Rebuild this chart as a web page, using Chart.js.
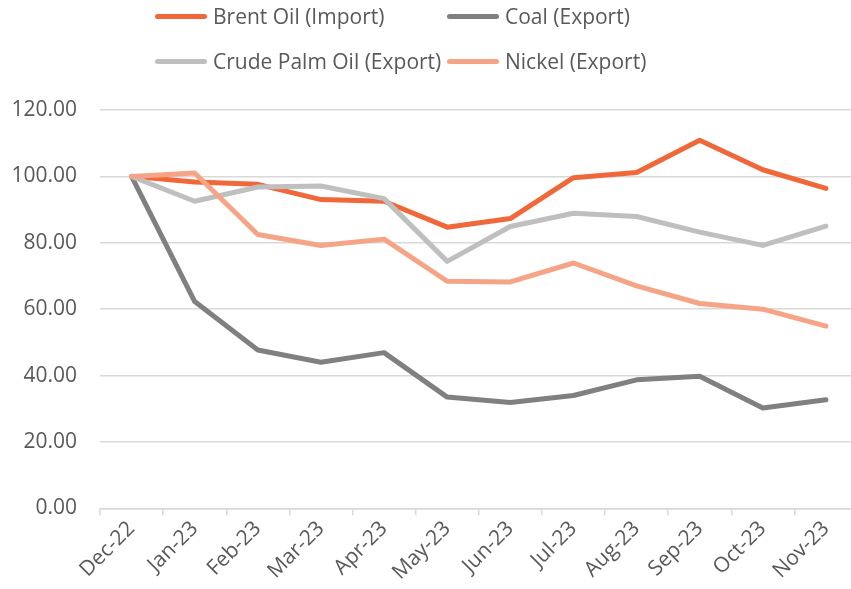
<!DOCTYPE html>
<html>
<head>
<meta charset="utf-8">
<script src="https://cdn.jsdelivr.net/npm/chart.js@4/dist/chart.umd.min.js"></script>
<style>
  html, body { margin: 0; padding: 0; background: #fff; }
  #wrap { position: relative; width: 851px; height: 589px; overflow: hidden; }
  #c { position: absolute; left: 0; top: 0; }
  .lg { position: absolute; display: flex; align-items: center; font-family: "Open Sans", sans-serif; font-size: 21px; color: #595959; white-space: nowrap; }
  .lg .sw { width: 52px; height: 5px; border-radius: 3px; margin-right: 6px; }
</style>
</head>
<body>
<div id="wrap">
  <canvas id="c" width="870" height="589"></canvas>
  <div id="legend"></div>
</div>
<script>
const categories = ["Dec-22","Jan-23","Feb-23","Mar-23","Apr-23","May-23","Jun-23","Jul-23","Aug-23","Sep-23","Oct-23","Nov-23"];
const brentOil = [100, 98.3, 97.6, 93.0, 92.5, 84.7, 87.3, 99.6, 101.2, 110.9, 102.0, 96.4];
const coal = [100, 62.3, 47.7, 44.0, 46.9, 33.5, 31.9, 34.0, 38.7, 39.8, 30.2, 32.7];
const crudePalmOil = [100, 92.5, 96.8, 97.1, 93.3, 74.4, 84.9, 88.9, 87.9, 83.2, 79.2, 85.0];
const nickel = [100, 101.0, 82.5, 79.2, 81.1, 68.4, 68.2, 73.9, 67.0, 61.7, 60.0, 54.9];
const seriesNames = ["Brent Oil (Import)", "Coal (Export)", "Crude Palm Oil (Export)", "Nickel (Export)"];
const yTicks = [0, 20, 40, 60, 80, 100, 120];

const colors = ["#F0683A", "#808080", "#BFBFBF", "#F5A485"];
const seriesData = [brentOil, coal, crudePalmOil, nickel];

const datasets = seriesData.map((d, i) => ({
  label: seriesNames[i],
  data: d,
  borderColor: colors[i],
  backgroundColor: colors[i],
  borderWidth: 5,
  pointRadius: 0,
  pointHoverRadius: 0,
  tension: 0,
  borderCapStyle: 'round',
  borderJoinStyle: 'round',
  fill: false,
  order: 4 - i
}));

const font = { family: '"Open Sans", sans-serif', size: 21 };

new Chart(document.getElementById('c'), {
  type: 'line',
  data: { labels: categories, datasets },
  options: {
    responsive: false,
    animation: false,
    devicePixelRatio: 1,
    layout: { padding: { left: 0, top: 110, right: 12.5, bottom: 0 } },
    plugins: { legend: { display: false }, tooltip: { enabled: false } },
    scales: {
      x: {
        type: 'category',
        offset: true,
        grid: { display: true, offset: true, drawOnChartArea: false, drawTicks: true, tickLength: 7, color: '#D9D9D9', lineWidth: 1.5 },
        border: { display: true, color: '#D9D9D9', width: 1.5 },
        ticks: { color: '#595959', font, minRotation: 45, maxRotation: 45, autoSkip: false, padding: 1 },
        afterFit: s => { s.height = 589 - 508.3; }
      },
      y: {
        min: 0, max: 120,
        afterBuildTicks: s => { s.ticks = yTicks.map(v => ({ value: v })); },
        grid: { color: '#D9D9D9', lineWidth: 1.5, drawTicks: false },
        border: { display: false },
        ticks: { color: '#595959', font, padding: 23, callback: v => Number(v).toFixed(2) },
        afterFit: s => { s.width = 100; }
      }
    }
  }
});

// HTML legend (two-column grid like the reference)
const legendPos = [
  { x: 155, y: 16 }, { x: 447, y: 16 },
  { x: 155, y: 61 }, { x: 447, y: 61 }
];
const lg = document.getElementById('legend');
seriesNames.forEach((n, i) => {
  const d = document.createElement('div');
  d.className = 'lg';
  d.style.left = legendPos[i].x + 'px';
  d.style.top = (legendPos[i].y - 14) + 'px';
  d.style.height = '28px';
  d.innerHTML = '<span class="sw" style="background:' + colors[i] + '"></span><span>' + n + '</span>';
  lg.appendChild(d);
});
</script>
</body>
</html>
